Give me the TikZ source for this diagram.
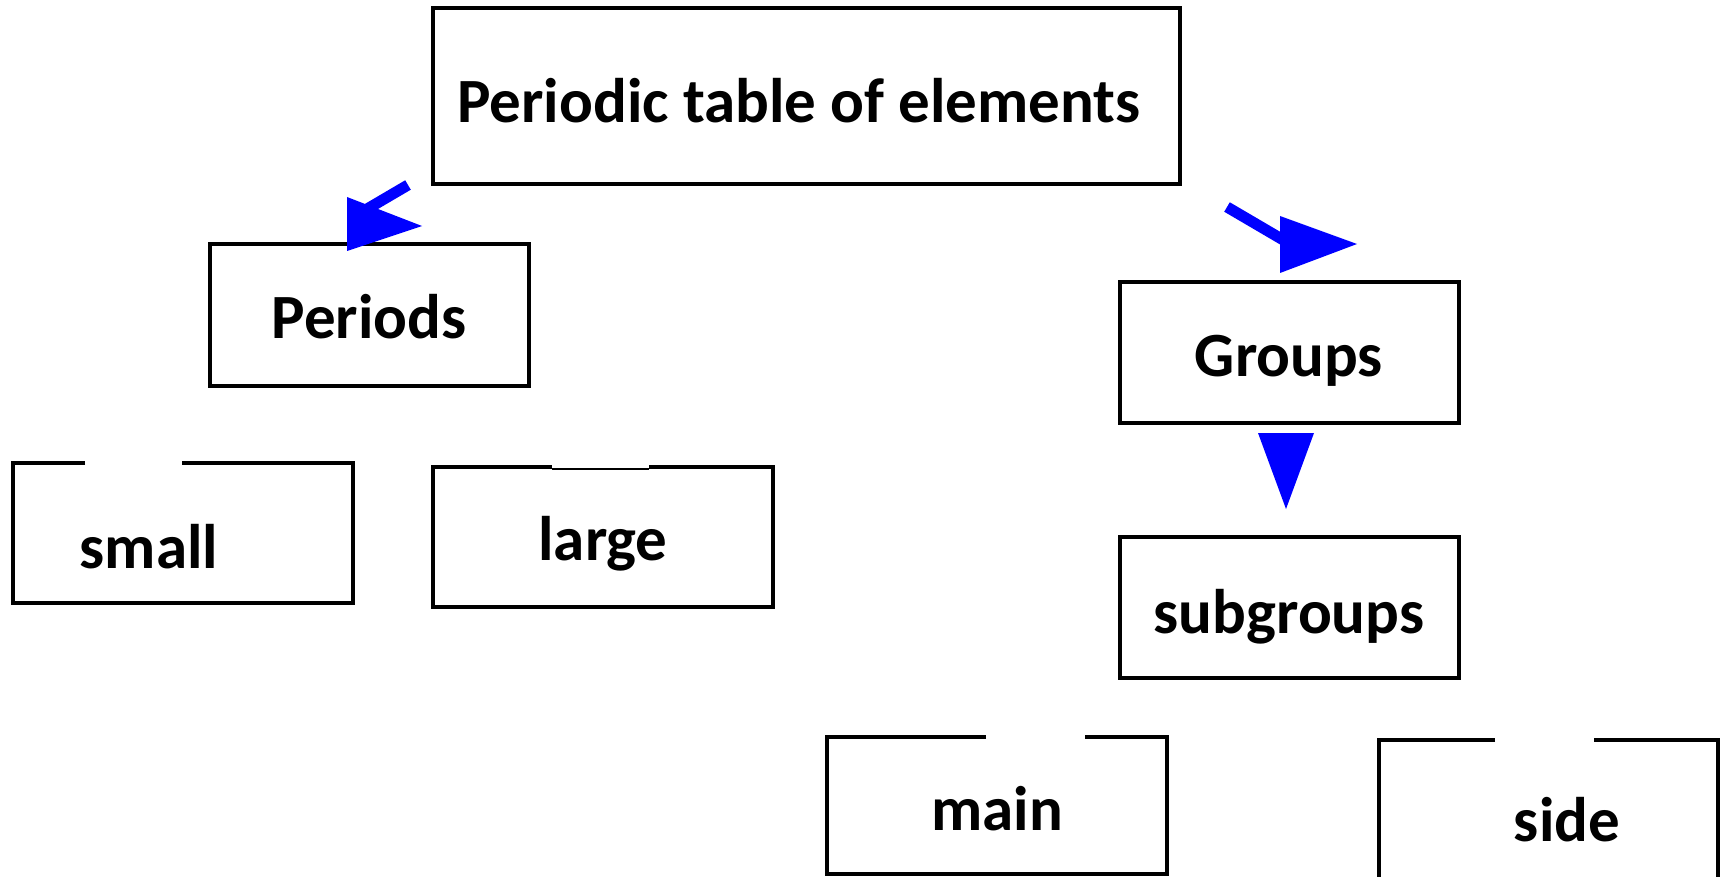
\documentclass[tikz,border=0pt]{standalone}
\usepackage{fontspec}
\setmainfont{Carlito}
\begin{document}
\begin{tikzpicture}[x=1pt,y=-1pt,
  boxline/.style={line width=4.5pt,line join=miter},
  lbl/.style={font=\fontsize{63}{75}\selectfont\bfseries,anchor=base,inner sep=0pt},
  shaft/.style={draw=blue,line width=11pt},
  head/.style={fill=blue}]
\useasboundingbox (0,0) rectangle (1723,877);

% closed boxes
\draw[boxline] (433,8) rectangle (1180,184);
\draw[boxline] (210,244) rectangle (529,386);
\draw[boxline] (1120,282) rectangle (1459,423);
\draw[boxline] (1120,537) rectangle (1459,678);

% boxes with an opening in the top edge
\draw[boxline] (85,463) -- (13,463) -- (13,603) -- (353,603) -- (353,463) -- (182,463);
\draw[boxline] (552,467) -- (433,467) -- (433,607) -- (773,607) -- (773,467) -- (649,467);
\draw[line width=2pt] (552,469) -- (649,469);
\draw[boxline] (986,737) -- (827,737) -- (827,874) -- (1167,874) -- (1167,737) -- (1085,737);
\draw[boxline] (1495,740) -- (1379,740) -- (1379,890);
\draw[boxline] (1594,740) -- (1718,740) -- (1718,890);

% labels
\node[lbl] (ptable) at (799,123) {Periodic table of elements};
\node[lbl] (periods) at (369,338) {Periods};
\node[lbl] (small) at (149,568) {small};
\node[lbl] (large) at (603,560) {large};
\node[lbl] (groups) at (1289,376) {Groups};
\node[lbl] (subgroups) at (1289,633) {subgroups};
\node[lbl] (main) at (997,830) {main};
\node[lbl] (side) at (1567,841) {side};

% arrows
\coordinate (a1s) at (408,185);
\coordinate (a1e) at (362,212);
\draw[shaft] (a1s) -- (a1e);
\fill[head] (347,197) -- (422,226) -- (347,251) -- cycle;

\coordinate (a2s) at (1227,207);
\coordinate (a2e) at (1285,241);
\draw[shaft] (a2s) -- (a2e);
\fill[head] (1280,216) -- (1357,244) -- (1280,273) -- cycle;

\fill[head] (1258,433) -- (1314,433) -- (1286,509) -- cycle;
\end{tikzpicture}
\end{document}
